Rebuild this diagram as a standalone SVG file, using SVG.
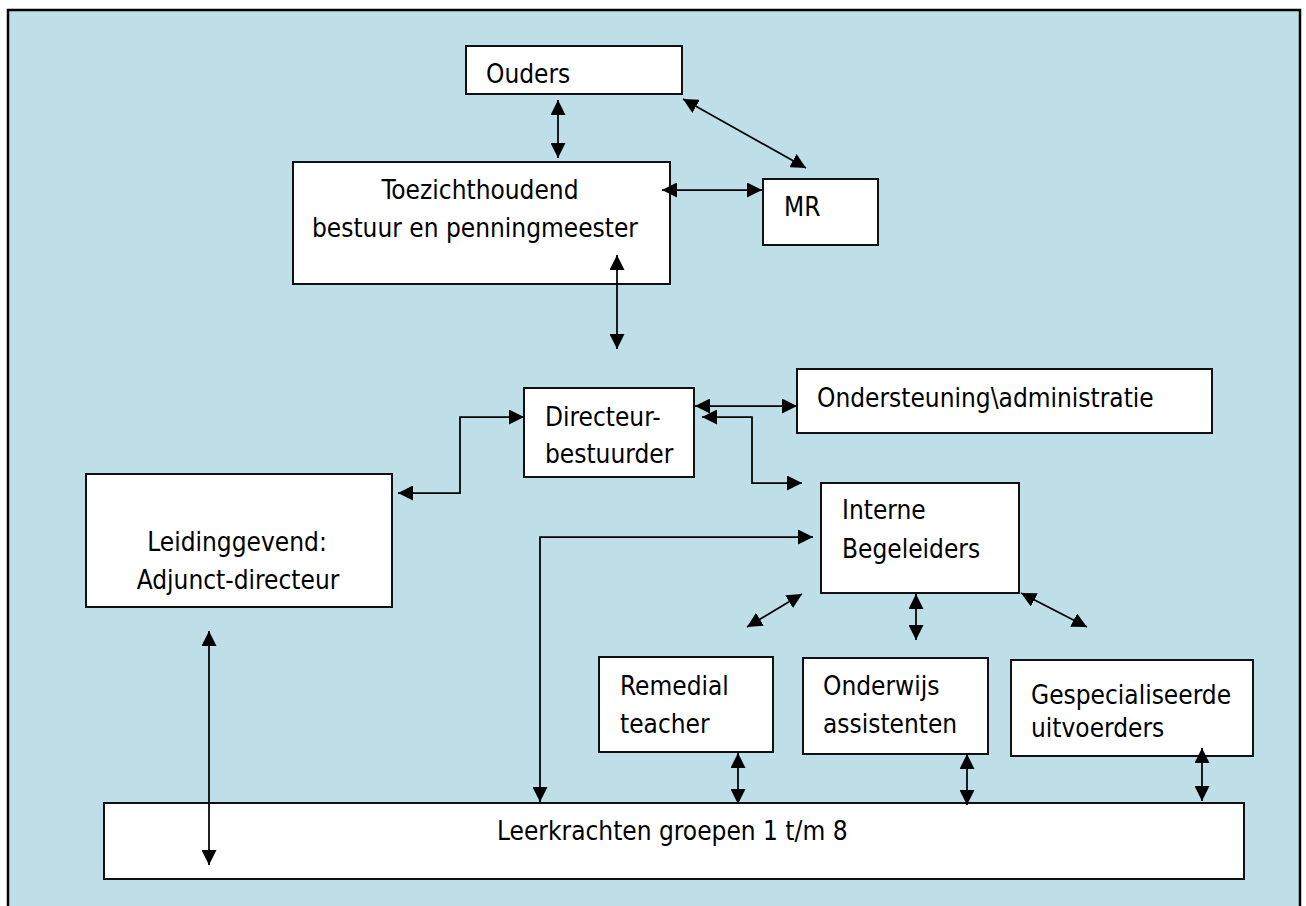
<svg xmlns="http://www.w3.org/2000/svg" width="1306" height="906" viewBox="0 0 1306 906">
  <style>
    .box { fill: #ffffff; stroke: #111111; stroke-width: 2; }
    .lbl { font-family: "DejaVu Sans Condensed", "DejaVu Sans", sans-serif; font-stretch: condensed; font-size: 26px; fill: #000000; }
    .mid { text-anchor: middle; }
    .con { fill: none; stroke: #000000; stroke-width: 1.75; marker-start: url(#ah); marker-end: url(#ah); }
  </style>
  <defs>
    <marker id="ah" markerUnits="userSpaceOnUse" markerWidth="15" markerHeight="15" viewBox="0 0 15 15" refX="15" refY="7.5" orient="auto-start-reverse">
      <path d="M0,0 L15,7.5 L0,15 z" fill="#000000"/>
    </marker>
  </defs>
  <rect x="0" y="0" width="1306" height="906" fill="#ffffff"/>
  <rect id="frame" x="8" y="10" width="1292" height="910" fill="#bedfe8" stroke="#000000" stroke-width="2.5"/>

  <g id="nodes">
    <g id="ouders">
      <rect class="box" x="466" y="46" width="216" height="48"/>
      <text class="lbl" x="486" y="83">Ouders</text>
    </g>
    <g id="toezicht">
      <rect class="box" x="293" y="162" width="377" height="122"/>
      <text class="lbl mid" x="480" y="199">Toezichthoudend</text>
      <text class="lbl mid" x="475" y="237">bestuur en penningmeester</text>
    </g>
    <g id="mr">
      <rect class="box" x="763" y="179" width="115" height="66"/>
      <text class="lbl" x="784" y="216">MR</text>
    </g>
    <g id="directeur">
      <rect class="box" x="524" y="388" width="170" height="89"/>
      <text class="lbl" x="545" y="426">Directeur-</text>
      <text class="lbl" x="545" y="463">bestuurder</text>
    </g>
    <g id="ondersteuning">
      <rect class="box" x="797" y="369" width="415" height="64"/>
      <text class="lbl" x="817" y="407">Ondersteuning\administratie</text>
    </g>
    <g id="leidinggevend">
      <rect class="box" x="86" y="474" width="306" height="133"/>
      <text class="lbl mid" x="237" y="551">Leidinggevend:</text>
      <text class="lbl mid" x="238" y="589">Adjunct-directeur</text>
    </g>
    <g id="interne">
      <rect class="box" x="821" y="483" width="198" height="110"/>
      <text class="lbl" x="842" y="519">Interne</text>
      <text class="lbl" x="842" y="558">Begeleiders</text>
    </g>
    <g id="remedial">
      <rect class="box" x="599" y="657" width="174" height="95"/>
      <text class="lbl" x="620" y="695">Remedial</text>
      <text class="lbl" x="620" y="733">teacher</text>
    </g>
    <g id="onderwijs">
      <rect class="box" x="803" y="658" width="185" height="96"/>
      <text class="lbl" x="823" y="695">Onderwijs</text>
      <text class="lbl" x="823" y="733">assistenten</text>
    </g>
    <g id="gespecialiseerd">
      <rect class="box" x="1011" y="660" width="242" height="96"/>
      <text class="lbl" x="1031" y="704">Gespecialiseerde</text>
      <text class="lbl" x="1031" y="737">uitvoerders</text>
    </g>
    <g id="leerkrachten">
      <rect class="box" x="104" y="803" width="1140" height="76"/>
      <text class="lbl" x="497" y="840">Leerkrachten groepen 1 t/m 8</text>
    </g>
  </g>

  <g id="connectors">
    <path class="con" d="M558,100 V158"/>
    <path class="con" d="M683,99 L806,168"/>
    <path class="con" d="M662,190 H762"/>
    <path class="con" d="M617,255 V349"/>
    <path class="con" d="M695,406 H797"/>
    <path class="con" d="M702,417 H752 V483 H802"/>
    <path class="con" d="M524,417 H460 V493 H398"/>
    <path class="con" d="M209,631 V865"/>
    <path class="con" d="M540,802 V537 H813"/>
    <path class="con" d="M802,594 L747,627"/>
    <path class="con" d="M916,594 V640"/>
    <path class="con" d="M1021,593 L1087,627"/>
    <path class="con" d="M738,753 V804"/>
    <path class="con" d="M967,754 V805"/>
    <path class="con" d="M1202,748 V801"/>
  </g>
</svg>
